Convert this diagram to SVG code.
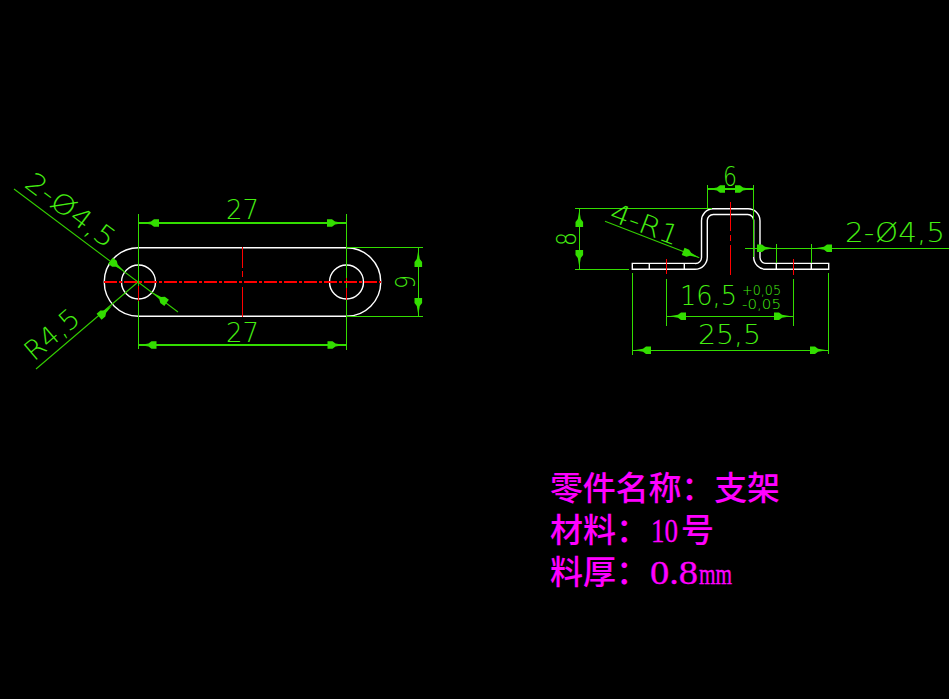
<svg xmlns="http://www.w3.org/2000/svg" xmlns:xlink="http://www.w3.org/1999/xlink" width="949" height="699" viewBox="0 0 949 699">
<style>
.o{fill:none;stroke:#fff;stroke-width:1.4}
.d{fill:none;stroke:#33dd00;stroke-width:1.4;shape-rendering:crispEdges}
.l{fill:none;stroke:#33cc00;stroke-width:1.1}
.c{fill:none;stroke:#f00;stroke-width:1.6;shape-rendering:crispEdges}
.t{font-family:"DejaVu Sans",sans-serif;font-weight:200;font-size:27px;fill:#44ee11}
.s{font-size:13.5px}
.m{font-family:"Noto Sans CJK SC",sans-serif;font-weight:500;font-size:33px;fill:#f0f}
.n{font-family:"Liberation Serif","Noto Sans CJK SC",serif;font-weight:400;font-size:34px;fill:#f0f;stroke:#f0f;stroke-width:.3}
</style>
<defs>
<path id="a" d="M0,0L-9,-1.5L-12,-3.8L-17,-3.8L-17,3.8L-12,3.8L-9,1.5Z" fill="#33dd00"/>
</defs>
<rect width="949" height="699" fill="#000"/>
<g id="plan-view">
<path class="o" d="M138.5,247.7H346.5A34.2,34.2 0 0 1 346.5,316.2H138.5A34.2,34.2 0 0 1 138.5,247.7Z"/>
<circle class="o" cx="138.5" cy="282" r="17"/>
<circle class="o" cx="346.5" cy="282" r="17"/>
</g>
<g id="side-view">
<path class="o" d="M632.3,263.4H695A6,6 0 0 0 701.5,257V221A12,12 0 0 1 713,208.7H748A12,12 0 0 1 760,220.7V257.5A6,6 0 0 0 766,263.4H828.7V269.3H766A12.3,12.3 0 0 1 753.7,257V221A6,6 0 0 0 747.7,214.5H713.3A6,6 0 0 0 707.3,220.5V257A12.3,12.3 0 0 1 695,269.3H632.3Z"/>
<path class="o" d="M649.3,263.4V269.3M684.3,263.4V269.3M776.3,263.4V269.3M811.3,263.4V269.3"/>
</g>
<g id="connectors">
<path class="d" d="M138.3,214V349M346.3,214V350M138.3,223H346.3M138.3,345H346.3M346.3,247.6H423M346.3,316.3H423M418.3,247.6V316.3"/>
<path class="l" d="M14,189L178,312M36,369L138,282M605,221.3L699.3,257.7"/>
<path class="d" d="M575,208.4H712M575,269.3H629M579.3,208.4V269.3M707.3,185V209M753.3,185V257M707.3,189H753.3M666.3,279V325.7M793.3,279V325.7M666.3,316.3H793.3M632.3,273V355M828.6,273V354M632.3,350.3H828.6M745,248.3H949M776.3,244V263M811.3,244V263"/>
<use xlink:href="#a" href="#a" transform="translate(142,223) rotate(180)"/>
<use xlink:href="#a" href="#a" transform="translate(344,223)"/>
<use xlink:href="#a" href="#a" transform="translate(139.5,345) rotate(180)"/>
<use xlink:href="#a" href="#a" transform="translate(344.5,345)"/>
<use xlink:href="#a" href="#a" transform="translate(418.3,250) rotate(-90)"/>
<use xlink:href="#a" href="#a" transform="translate(418.3,315) rotate(90)"/>
<use xlink:href="#a" href="#a" transform="translate(579.3,210) rotate(-90)"/>
<use xlink:href="#a" href="#a" transform="translate(579.3,267) rotate(90)"/>
<use xlink:href="#a" href="#a" transform="translate(708,189) rotate(180)"/>
<use xlink:href="#a" href="#a" transform="translate(752,189)"/>
<use xlink:href="#a" href="#a" transform="translate(669,316.3) rotate(180)"/>
<use xlink:href="#a" href="#a" transform="translate(791,316.3)"/>
<use xlink:href="#a" href="#a" transform="translate(634,350.3) rotate(180)"/>
<use xlink:href="#a" href="#a" transform="translate(827,350.3)"/>
<use xlink:href="#a" href="#a" transform="translate(774,248.3)"/>
<use xlink:href="#a" href="#a" transform="translate(815,248.3) rotate(180)"/>
<use xlink:href="#a" href="#a" transform="translate(124,271) rotate(36.9)"/>
<use xlink:href="#a" href="#a" transform="translate(153,292.7) rotate(216.9)"/>
<use xlink:href="#a" href="#a" transform="translate(112,305.7) rotate(-40.5)"/>
<use xlink:href="#a" href="#a" transform="translate(699,257.5) rotate(21)"/>
</g>
<g id="centre-lines">
<path class="c" stroke-dasharray="13 2 3 2" d="M104,282H381"/>
<path class="c" d="M242.3,247V268M242.3,271V277M242.3,287V317M138.3,286V301M346.3,278V280M346.3,288V300"/>
<path class="c" d="M730.3,202V231M730.3,235V241M730.3,245V275"/>
<path class="c" d="M666.3,259V274M793.3,259V274.5"/>
</g>
<g id="dimension-text">
<text class="t" x="226" y="219" textLength="33" lengthAdjust="spacingAndGlyphs">27</text>
<text class="t" x="226" y="342" textLength="33" lengthAdjust="spacingAndGlyphs">27</text>
<text class="t" transform="translate(415,289) rotate(-90)" textLength="14" lengthAdjust="spacingAndGlyphs">9</text>
<text class="t" transform="translate(576,246) rotate(-90)" textLength="14" lengthAdjust="spacingAndGlyphs">8</text>
<text class="t" x="723" y="186" textLength="14" lengthAdjust="spacingAndGlyphs">6</text>
<text class="t" x="680" y="305" textLength="57" lengthAdjust="spacingAndGlyphs">16,5</text>
<text class="t s" x="742" y="294.5" textLength="39" lengthAdjust="spacingAndGlyphs">+0,05</text>
<text class="t s" x="742" y="309" textLength="39" lengthAdjust="spacingAndGlyphs">-0,05</text>
<text class="t" x="698" y="344" textLength="63" lengthAdjust="spacingAndGlyphs">25,5</text>
<text class="t" x="845" y="241.7" textLength="100" lengthAdjust="spacingAndGlyphs">2-Ø4,5</text>
<text class="t" transform="translate(23,186) rotate(37)" textLength="105" lengthAdjust="spacingAndGlyphs">2-Ø4,5</text>
<text class="t" transform="translate(34,362) rotate(-40.5)" textLength="63" lengthAdjust="spacingAndGlyphs">R4,5</text>
<text class="t" transform="translate(608,220) rotate(21)" textLength="72" lengthAdjust="spacingAndGlyphs">4-R1</text>
</g>
<g id="title-text">
<text class="m" x="550" y="500" textLength="230" lengthAdjust="spacing">零件名称：支架</text>
<text class="m" x="550" y="542">材料：</text>
<text class="n" x="651" y="542" textLength="27" lengthAdjust="spacingAndGlyphs">10</text>
<text class="m" x="681" y="542">号</text>
<text class="m" x="550" y="584">料厚：</text>
<text class="n" x="650" y="584" textLength="48" lengthAdjust="spacingAndGlyphs">0.8</text>
<text class="n" x="699" y="584" style="font-size:30px" textLength="33" lengthAdjust="spacingAndGlyphs">mm</text>
</g>
</svg>
